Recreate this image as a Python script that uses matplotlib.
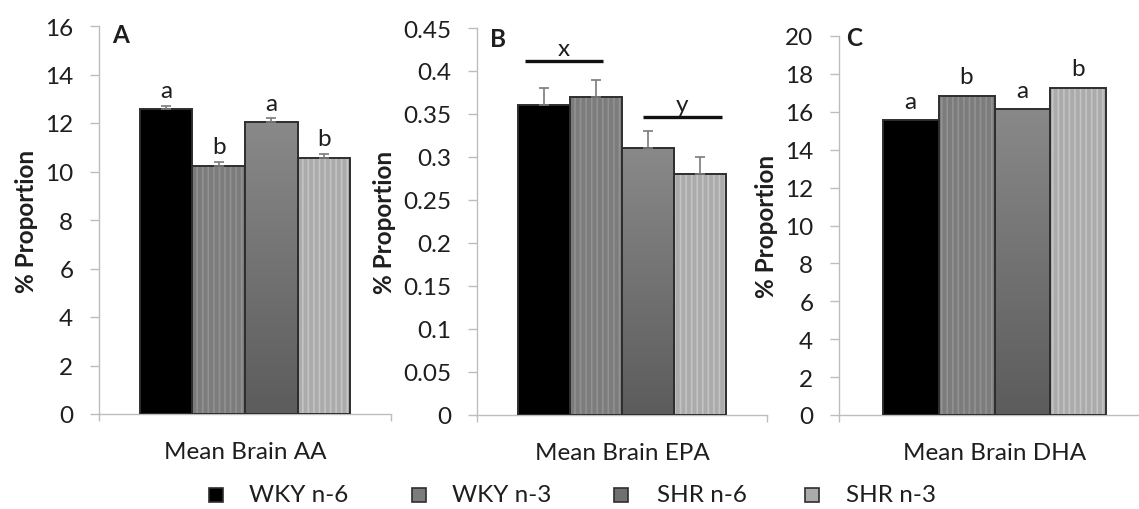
import matplotlib
matplotlib.use("Agg")
import matplotlib.pyplot as plt
import numpy as np
from matplotlib.patches import Rectangle
from matplotlib.colors import LinearSegmentedColormap

plt.rcParams['font.family'] = ['Lato', 'DejaVu Sans']
plt.rcParams['hatch.linewidth'] = 1.2

groups = ["WKY n-6", "WKY n-3", "SHR n-6", "SHR n-3"]
panels = ["A", "B", "C"]
xlabels = ["Mean Brain AA", "Mean Brain EPA", "Mean Brain DHA"]

aa_vals = [12.58, 10.24, 12.03, 10.56]
aa_err = [0.12, 0.16, 0.16, 0.18]
aa_letters = ["a", "b", "a", "b"]

epa_vals = [0.36, 0.37, 0.31, 0.28]
epa_err = [0.02, 0.02, 0.02, 0.02]

dha_vals = [15.57, 16.85, 16.15, 17.28]
dha_err = [0.0, 0.0, 0.0, 0.0]
dha_letters = ["a", "b", "a", "b"]

epa_groups = ["x", "y"]
epa_group_levels = [0.412, 0.346]

ylims = [16, 0.45, 20]
ysteps = [2, 0.05, 2]
ytick_labels = [
    ["0", "2", "4", "6", "8", "10", "12", "14", "16"],
    ["0", "0.05", "0.1", "0.15", "0.2", "0.25", "0.3", "0.35", "0.4", "0.45"],
    ["0", "2", "4", "6", "8", "10", "12", "14", "16", "18", "20"],
]

W, H = 1139, 510
fig = plt.figure(figsize=(W / 100, H / 100), dpi=100)

# axes boxes in pixels: left, top, right, bottom
boxes = [(99, 27, 391, 415), (477, 29, 767, 416), (839, 37, 1150, 416)]

face = ["#000000", "#7c7c7c", None, "#ababab"]
hatchc = [None, "#929292", None, "#c4c4c4"]
edge = "#2e2e2e"
txtc = "#1e1e1e"
axc = "#bdbdbd"
FS = 17.5

offsets = np.array([-1.5, -0.5, 0.5, 1.5])
bw = 0.18
xs = offsets * bw

all_vals = [aa_vals, epa_vals, dha_vals]
all_err = [aa_err, epa_err, dha_err]

grad = np.linspace(0, 1, 256).reshape(-1, 1)
gcmap = LinearSegmentedColormap.from_list("g", ["#5c5c5c", "#898989"])

axes = []
for i, (l, t, r, b) in enumerate(boxes):
    ax = fig.add_axes([l / W, (H - b) / H, (r - l) / W, (b - t) / H])
    axes.append(ax)
    vals = all_vals[i]
    errs = all_err[i]
    for j in range(4):
        if j == 2:
            p = ax.bar(xs[j], vals[j], bw, color="#707070", linewidth=0, zorder=2)[0]
            im = ax.imshow(grad, extent=(xs[j] - bw / 2, xs[j] + bw / 2, 0, vals[j]),
                           origin="lower", cmap=gcmap, aspect="auto", zorder=2.1)
            im.set_clip_path(p)
        elif hatchc[j] is not None:
            ax.bar(xs[j], vals[j], bw, color=face[j], edgecolor=hatchc[j], hatch="|||",
                   linewidth=0, zorder=2)
        else:
            ax.bar(xs[j], vals[j], bw, color=face[j], linewidth=0, zorder=2)
        ax.bar(xs[j], vals[j], bw, fill=False, edgecolor=edge, linewidth=1.4, zorder=3)
        if errs[j] > 0:
            ax.errorbar(xs[j], vals[j], yerr=[[0], [errs[j]]], fmt="none",
                        ecolor="#7a7a7a", elinewidth=1.2, capsize=3.5, capthick=1.2, zorder=4)
    ax.set_xlim(-0.5, 0.5)
    ax.set_ylim(0, ylims[i])
    yt = np.arange(len(ytick_labels[i])) * ysteps[i]
    ax.set_yticks(yt)
    ax.set_yticklabels(ytick_labels[i], fontsize=FS, color=txtc)
    ax.set_xticks([-0.5, 0.5])
    ax.set_xticklabels(["", ""])
    ax.tick_params(axis="y", direction="out", length=6.5, width=1, color=axc, pad=12)
    ax.tick_params(axis="x", direction="out", length=5, width=1, color=axc)
    for s in ["top", "right"]:
        ax.spines[s].set_visible(False)
    for s in ["left", "bottom"]:
        ax.spines[s].set_color(axc)
        ax.spines[s].set_linewidth(1)
    ax.set_ylabel("% Proportion", fontsize=FS, fontweight="bold", color=txtc, labelpad=5)
    ax.set_xlabel(xlabels[i], fontsize=FS, color=txtc, labelpad=11)
    ax.patch.set_visible(False)

# panel letters
letter_off = [(13, 3), (13, 1), (7, 10)]
for ax, lab, (dx, dy) in zip(axes, panels, letter_off):
    ax.annotate(lab, xy=(0, 1), xycoords="axes fraction", xytext=(dx * 0.72, dy * 0.72),
                textcoords="offset points", ha="left", va="top", fontsize=FS,
                fontweight="bold", color=txtc)

# significance letters
for j in range(4):
    axes[0].annotate(aa_letters[j], xy=(xs[j], aa_vals[j] + aa_err[j]),
                     xytext=(0, 3.5), textcoords="offset points", ha="center", va="bottom",
                     fontsize=FS, color=txtc)
    axes[2].annotate(dha_letters[j], xy=(xs[j], dha_vals[j] + dha_err[j]),
                     xytext=(0, 6), textcoords="offset points", ha="center", va="bottom",
                     fontsize=FS, color=txtc)

# EPA group bars
axB = axes[1]
spans = [(xs[0] - 0.064, xs[1] + 0.024), (xs[2] - 0.018, xs[3] + 0.075)]
for lab, lvl, (x0, x1) in zip(epa_groups, epa_group_levels, spans):
    axB.plot([x0, x1], [lvl, lvl], color="#111111", linewidth=2.4, solid_capstyle="butt", zorder=5)
    axB.annotate(lab, xy=((x0 + x1) / 2, lvl), xytext=(0, 1.5), textcoords="offset points",
                 ha="center", va="bottom", fontsize=FS, color=txtc)

# legend (drawn manually in figure pixel space)
leg_faces = ["#000000", "#7c7c7c", "#707070", "#ababab"]
leg_sq_x = [209, 412, 614, 805]
leg_txt_x = [249, 452, 657, 846]
leg_y = 496
sq = 14
for fc, sx, tx, lab in zip(leg_faces, leg_sq_x, leg_txt_x, groups):
    fig.patches.append(Rectangle((sx / W, (H - leg_y - sq / 2) / H), sq / W, sq / H,
                                 transform=fig.transFigure, facecolor=fc, edgecolor=edge,
                                 linewidth=1.2))
    fig.text(tx / W, (H - leg_y) / H, lab, ha="left", va="center", fontsize=FS, color=txtc)

fig.savefig("out.png", dpi=100, facecolor="white")
